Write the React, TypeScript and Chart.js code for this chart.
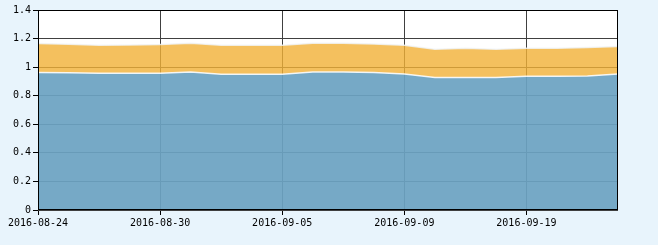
import React, { useEffect, useRef } from "react";
import { Chart, registerables } from "chart.js";

Chart.register(...registerables);

const dates = [
  "2016-08-24", "2016-08-25", "2016-08-26", "2016-08-29", "2016-08-30",
  "2016-08-31", "2016-09-01", "2016-09-02", "2016-09-05", "2016-09-06",
  "2016-09-07", "2016-09-08", "2016-09-09", "2016-09-12", "2016-09-13",
  "2016-09-14", "2016-09-19", "2016-09-20", "2016-09-21", "2016-09-22",
];

const lowerSeries = [
  0.963, 0.96, 0.957, 0.957, 0.957, 0.966, 0.95, 0.95, 0.95, 0.966,
  0.966, 0.962, 0.952, 0.928, 0.928, 0.928, 0.936, 0.936, 0.938, 0.952,
];

const totalSeries = [
  1.165, 1.16, 1.153, 1.155, 1.158, 1.167, 1.153, 1.153, 1.153, 1.167,
  1.167, 1.162, 1.153, 1.125, 1.132, 1.125, 1.132, 1.132, 1.138, 1.145,
];

const upperSeries = totalSeries.map((t, i) => Number((t - lowerSeries[i]).toFixed(3)));

const yTicks = { min: 0, max: 1.4, step: 0.2 };

const FONT = { family: "'DejaVu Sans Mono', monospace", size: 10 };

const frame = {
  id: "frame",
  afterDatasetsDraw(chart: any) {
    const { ctx, chartArea } = chart;
    const l = Math.round(chartArea.left) + 0.5;
    const t = Math.round(chartArea.top) + 0.5;
    const r = Math.round(chartArea.right) - 0.5;
    const b = Math.round(chartArea.bottom) - 0.5;
    ctx.save();
    ctx.strokeStyle = "#000";
    ctx.lineWidth = 1;
    ctx.strokeRect(l, t, r - l, b - t);
    ctx.restore();
  },
};

const bg = {
  id: "plotbg",
  beforeDraw(chart: any) {
    const { ctx, chartArea } = chart;
    ctx.save();
    ctx.fillStyle = "#ffffff";
    ctx.fillRect(chartArea.left, chartArea.top, chartArea.right - chartArea.left, chartArea.bottom - chartArea.top);
    ctx.restore();
  },
};

export default function App() {
  const ref = useRef<HTMLCanvasElement>(null);
  useEffect(() => {
    const chart = new Chart(ref.current!, {
      type: "line",
      data: {
        labels: dates,
        datasets: [
          {
            label: "A",
            data: lowerSeries,
            fill: "origin",
            backgroundColor: "rgba(108,162,194,0.93)",
            borderColor: "rgba(255,255,255,0.85)",
            borderWidth: 1.5,
            pointRadius: 0,
            tension: 0,
          },
          {
            label: "B",
            data: upperSeries,
            fill: "-1",
            backgroundColor: "rgba(241,176,54,0.8)",
            borderColor: "rgba(240,245,250,0.8)",
            borderWidth: 1.5,
            pointRadius: 0,
            tension: 0,
          },
        ],
      },
      options: {
        animation: false,
        responsive: false,
        maintainAspectRatio: false,
        layout: { padding: { left: 0, top: 10, right: 40, bottom: 0 } },
        plugins: { legend: { display: false }, tooltip: { enabled: false } },
        scales: {
          x: {
            offset: false,
            stacked: true,
            afterFit(scale: any) {
              scale.height = 35;
            },
            grid: { color: "#404040", tickColor: "#000", tickLength: 5, lineWidth: 1 },
            border: { display: false },
            ticks: {
              autoSkip: false,
              maxRotation: 0,
              minRotation: 0,
              padding: 2,
              color: "#000",
              font: FONT,
              callback: (_v: any, i: number) => (i % 4 === 0 ? dates[i] : null),
            },
          },
          y: {
            stacked: true,
            min: yTicks.min,
            max: yTicks.max,
            afterFit(scale: any) {
              scale.width = 38;
            },
            grid: { color: "#404040", tickColor: "#000", tickLength: 5, lineWidth: 1 },
            border: { display: false },
            ticks: {
              stepSize: yTicks.step,
              padding: 2,
              color: "#000",
              font: FONT,
              callback: (v: any) => String(Number(Number(v).toFixed(1))),
            },
          },
        },
      },
      plugins: [bg, frame],
    });
    return () => chart.destroy();
  }, []);
  return (
    <div style={{ position: "fixed", left: 0, top: 0, width: 658, height: 245, background: "#e8f4fc" }}>
      <canvas ref={ref} width={658} height={245} style={{ display: "block" }} />
    </div>
  );
}
